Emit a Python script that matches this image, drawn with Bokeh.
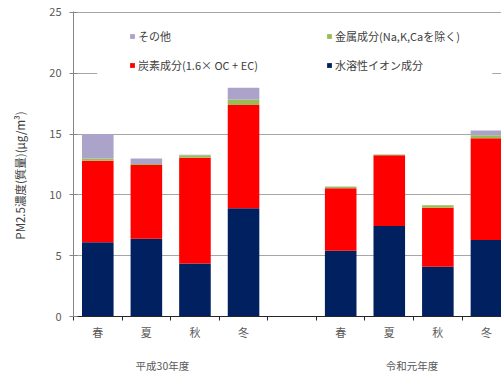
from bokeh.plotting import figure
from bokeh.models import (ColumnDataSource, Range1d, FixedTicker, LinearAxis,
                          Legend, LegendItem, BoxAnnotation)
from bokeh.embed import file_html
from bokeh.resources import INLINE

# PM2.5 component concentrations (μg/m³) by season for two fiscal years
seasons = ["春", "夏", "秋", "冬"]
years = ["平成30年度", "令和元年度"]
season_labels = seasons + seasons
slot_x = [0.5, 1.5, 2.5, 3.5, 5.5, 6.5, 7.5, 8.5]   # slot 4.5 left empty between years
group_tick_x = [1.83, 6.97]

ion = [6.1, 6.4, 4.35, 8.9, 5.4, 7.45, 4.1, 6.3]        # 水溶性イオン成分
carbon = [6.7, 6.05, 8.7, 8.5, 5.15, 5.8, 4.85, 8.35]   # 炭素成分
metal = [0.2, 0.1, 0.2, 0.45, 0.12, 0.08, 0.2, 0.25]    # 金属成分
other = [2.0, 0.45, 0.05, 0.95, 0.03, 0.0, 0.0, 0.4]    # その他

y_ticks = [0, 5, 10, 15, 20, 25]

FONT = "Noto Sans CJK JP"
COLORS = {"ion": "#002060", "carbon": "#ff0000", "metal": "#9bbb59", "other": "#aba3c9"}

src = ColumnDataSource(dict(x=slot_x, ion=ion, carbon=carbon, metal=metal, other=other))

p = figure(width=501, height=376,
           x_range=Range1d(0, 8.81), y_range=Range1d(0, 25.08),
           output_backend="svg", toolbar_location=None,
           min_border_left=73, min_border_right=0,
           min_border_top=11, min_border_bottom=60,
           outline_line_color=None,
           background_fill_color="white", border_fill_color="white")

stack = ["ion", "carbon", "metal", "other"]
rs = p.vbar_stack(stack, x="x", width=0.65, source=src,
                  color=[COLORS[k] for k in stack], line_color=None)

# grid
p.xgrid.visible = False
p.ygrid.ticker = FixedTicker(ticks=y_ticks)
p.ygrid.grid_line_color = "#a6a6a6"
p.ygrid.grid_line_width = 1

# y axis (trailing ideographic spaces nudge the title towards the bottom)
ya = p.yaxis[0]
ya.ticker = FixedTicker(ticks=y_ticks)
ya.axis_line_color = "#868686"
ya.major_tick_line_color = "#868686"
ya.major_tick_in = 4
ya.major_tick_out = 4
ya.minor_tick_line_color = None
ya.major_label_standoff = 8
ya.major_label_text_font = FONT
ya.major_label_text_font_size = "11px"
ya.major_label_text_color = "#595959"
ya.axis_label = "PM2.5濃度(質量)(μg/m³)\u3000\u3000"
ya.axis_label_standoff = 18
ya.axis_label_text_font = FONT
ya.axis_label_text_font_size = "11.5px"
ya.axis_label_text_font_style = "normal"
ya.axis_label_text_color = "#404040"

# season axis: labels at slot centres, tick marks at slot boundaries
xa = p.xaxis[0]
xa.ticker = FixedTicker(ticks=slot_x, minor_ticks=list(range(10)))
xa.major_label_overrides = {x: s for x, s in zip(slot_x, season_labels)}
xa.axis_line_color = "#262626"
xa.major_tick_line_color = None
xa.major_tick_in = 0
xa.major_tick_out = 0
xa.minor_tick_line_color = "#262626"
xa.minor_tick_in = 0
xa.minor_tick_out = 4
xa.major_label_standoff = 3
xa.major_label_text_font = FONT
xa.major_label_text_font_size = "11px"
xa.major_label_text_color = "#595959"

# fiscal-year axis below the seasons
ga = LinearAxis(ticker=FixedTicker(ticks=group_tick_x),
                major_label_overrides={x: s for x, s in zip(group_tick_x, years)},
                axis_line_color=None, major_tick_line_color=None,
                minor_tick_line_color=None, major_label_standoff=9,
                major_label_text_font=FONT, major_label_text_font_size="10.5px",
                major_label_text_color="#595959")
p.add_layout(ga, "below")

# white panel behind the legend
p.add_layout(BoxAnnotation(left=0.49, right=8.62, bottom=19.4, top=24.3,
                           fill_color="white", fill_alpha=1.0, line_color=None))

def make_legend(items, loc):
    return Legend(items=items, location=loc, orientation="vertical",
                  padding=0, margin=0, spacing=13, label_height=14,
                  glyph_height=6, glyph_width=6, label_standoff=3,
                  background_fill_alpha=0, border_line_color=None,
                  label_text_font=FONT, label_text_font_size="11px",
                  label_text_color="#404040")

leg1 = make_legend([LegendItem(label="その他", renderers=[rs[3]]),
                    LegendItem(label="炭素成分(1.6× OC + EC)", renderers=[rs[1]])],
                   (56, 243.5))
leg2 = make_legend([LegendItem(label="金属成分(Na,K,Caを除く)", renderers=[rs[2]]),
                    LegendItem(label="水溶性イオン成分", renderers=[rs[0]])],
                   (253, 243.5))
p.add_layout(leg1)
p.add_layout(leg2)

open("out.html", "w").write(file_html(p, INLINE))
